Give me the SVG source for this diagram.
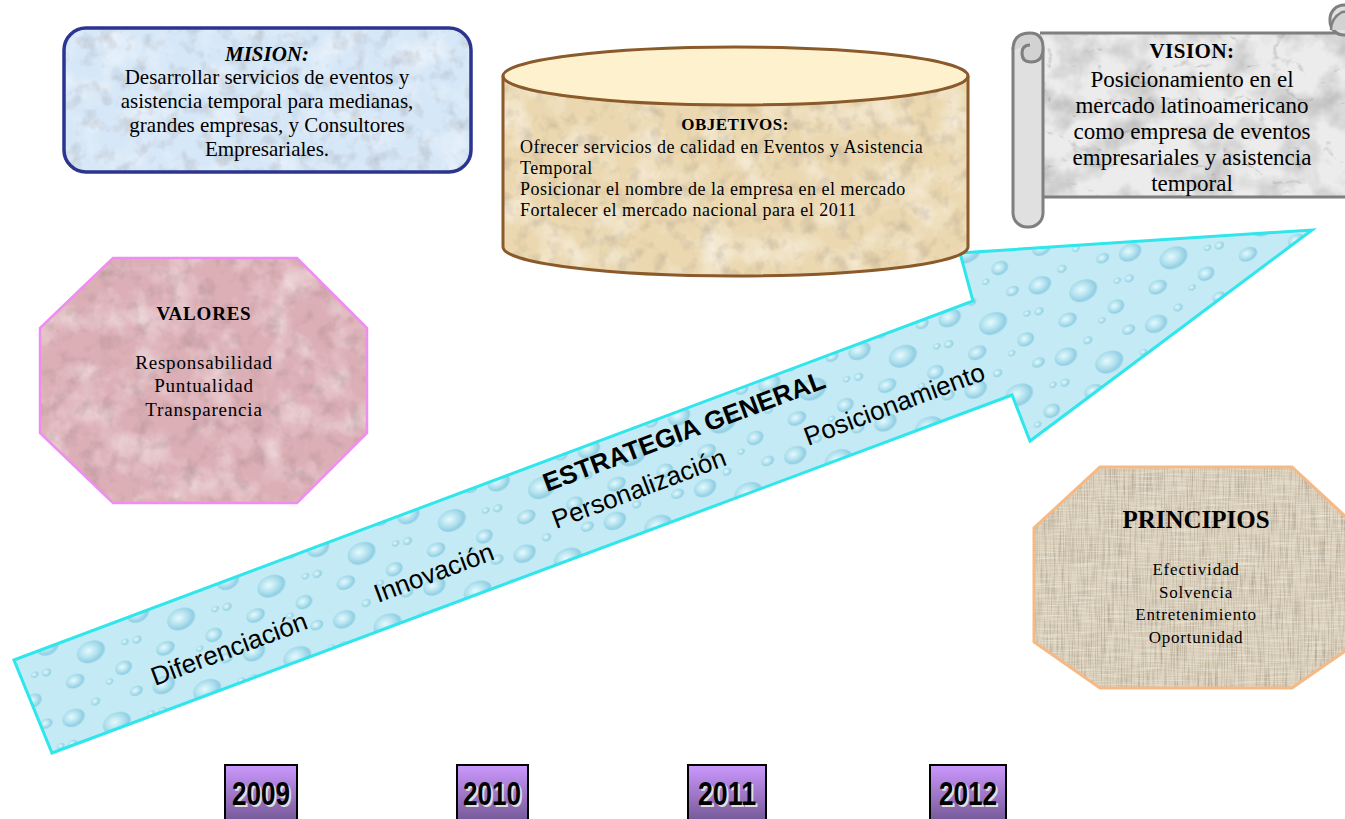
<svg xmlns="http://www.w3.org/2000/svg" width="1345" height="819" viewBox="0 0 1345 819">
<style>
.serif{font-family:"Liberation Serif","Times New Roman",serif;fill:#000}
.c{text-anchor:middle}
.b{font-weight:bold}
.at{font-family:"Liberation Sans",Arial,sans-serif;font-size:26px;fill:#000}
.yr{font-family:"Liberation Sans",Arial,sans-serif;font-weight:bold;font-size:33px;text-anchor:middle}
.ybox{fill:url(#ygrad);stroke:#000;stroke-width:2}
.dr{fill:url(#drop)}
</style>
<defs>
<filter id="mottle" x="0" y="0" width="100%" height="100%" color-interpolation-filters="sRGB">
<feTurbulence type="fractalNoise" baseFrequency="0.03" numOctaves="4" seed="3" result="n"/>
<feColorMatrix in="n" type="matrix" values="0 0 0 0 1 0 0 0 0 1 0 0 0 0 1 1.1 0 0 0 -0.48" result="w"/>
<feComposite in="w" in2="SourceGraphic" operator="in" result="wc"/>
<feTurbulence type="fractalNoise" baseFrequency="0.06" numOctaves="3" seed="9" result="n2"/>
<feColorMatrix in="n2" type="matrix" values="0 0 0 0 0.45 0 0 0 0 0.4 0 0 0 0 0.4 0.6 0 0 0 -0.3" result="d"/>
<feComposite in="d" in2="SourceGraphic" operator="in" result="dc"/>
<feMerge><feMergeNode in="SourceGraphic"/><feMergeNode in="wc"/><feMergeNode in="dc"/></feMerge>
</filter>
<filter id="marble" x="0" y="0" width="100%" height="100%" color-interpolation-filters="sRGB">
<feTurbulence type="fractalNoise" baseFrequency="0.025" numOctaves="4" seed="11" result="p"/>
<feColorMatrix in="p" type="matrix" values="0 0 0 0 0.55 0 0 0 0 0.55 0 0 0 0 0.55 1.2 0 0 0 -0.5" result="pc"/>
<feTurbulence type="turbulence" baseFrequency="0.02 0.03" numOctaves="4" seed="5" result="n"/>
<feColorMatrix in="n" type="matrix" values="0 0 0 0 0.5 0 0 0 0 0.5 0 0 0 0 0.5 -2.5 0 0 0 0.35" result="v"/>
<feMerge result="m"><feMergeNode in="SourceGraphic"/><feMergeNode in="pc"/><feMergeNode in="v"/></feMerge>
<feComposite in="m" in2="SourceGraphic" operator="in"/>
</filter>
<filter id="burlap" x="0" y="0" width="100%" height="100%" color-interpolation-filters="sRGB">
<feTurbulence type="fractalNoise" baseFrequency="0.7 0.03" numOctaves="2" seed="4" result="h"/>
<feColorMatrix in="h" type="matrix" values="0 0 0 0 0.5 0 0 0 0 0.45 0 0 0 0 0.38 1.0 0 0 0 -0.42" result="hc"/>
<feTurbulence type="fractalNoise" baseFrequency="0.03 0.7" numOctaves="2" seed="7" result="vv"/>
<feColorMatrix in="vv" type="matrix" values="0 0 0 0 1 0 0 0 0 1 0 0 0 0 0.96 1.0 0 0 0 -0.42" result="vc"/>
<feMerge result="m"><feMergeNode in="SourceGraphic"/><feMergeNode in="hc"/><feMergeNode in="vc"/></feMerge>
<feComposite in="m" in2="SourceGraphic" operator="in"/>
</filter>
<radialGradient id="drop" cx="0.42" cy="0.4" r="0.6">
<stop offset="0" stop-color="#e6f9fd"/>
<stop offset="0.5" stop-color="#b3e2ef"/>
<stop offset="0.85" stop-color="#8fcde2"/>
<stop offset="1" stop-color="#c4ecf6"/>
</radialGradient>
<pattern id="drops" width="96" height="76" patternUnits="userSpaceOnUse" patternTransform="rotate(-20)">
<rect width="96" height="76" fill="#c4ebf5"/>
<ellipse class="dr" cx="16" cy="16" rx="12" ry="9"/>
<ellipse class="dr" cx="55" cy="36" rx="15" ry="11"/>
<ellipse class="dr" cx="84" cy="12" rx="7" ry="5"/>
<ellipse class="dr" cx="30" cy="58" rx="10" ry="7"/>
<ellipse class="dr" cx="80" cy="62" rx="9" ry="7"/>
<ellipse class="dr" cx="6" cy="40" rx="5" ry="4"/>
<ellipse class="dr" cx="42" cy="8" rx="5" ry="4"/>
<ellipse class="dr" cx="62" cy="70" rx="4" ry="3"/>
<ellipse class="dr" cx="90" cy="38" rx="4" ry="3"/>
</pattern>
<linearGradient id="ygrad" x1="0" y1="0" x2="0" y2="1">
<stop offset="0" stop-color="#cc99ff"/>
<stop offset="1" stop-color="#6f548f"/>
</linearGradient>
</defs>

<rect width="1345" height="819" fill="#ffffff"/>

<g id="connectors">
<g id="estrategia">
<polygon points="14,660 973,301 960,253 1312,230 1030,441 1012,395 52,753" fill="url(#drops)"/>
<polygon points="14,660 973,301 960,253 1312,230 1030,441 1012,395 52,753" fill="none" stroke="#2ee6ec" stroke-width="3"/>
<text class="at" x="155" y="686" transform="rotate(-20.5 155 686)">Diferenciación</text>
<text class="at" x="378" y="603" transform="rotate(-20.5 378 603)">Innovación</text>
<text class="at b" x="547" y="492" transform="rotate(-20.5 547 492)">ESTRATEGIA GENERAL</text>
<text class="at" x="556" y="529" transform="rotate(-20.5 556 529)">Personalización</text>
<text class="at" x="808" y="446" transform="rotate(-20.5 808 446)">Posicionamiento</text>
</g>
</g>

<g id="mision">
<rect x="64" y="28" width="407" height="144" rx="22" fill="#d6e7f7" filter="url(#mottle)"/>
<rect x="64" y="28" width="407" height="144" rx="22" fill="none" stroke="#2b3590" stroke-width="3.5"/>
<text class="serif c b" x="267" y="61" font-size="21" font-style="italic">MISION:</text>
<text class="serif c" x="267" y="84" font-size="21">Desarrollar servicios de eventos y</text>
<text class="serif c" x="267" y="108" font-size="21">asistencia temporal para medianas,</text>
<text class="serif c" x="267" y="132" font-size="21">grandes empresas, y Consultores</text>
<text class="serif c" x="267" y="156" font-size="21">Empresariales.</text>
</g>

<g id="objetivos">
<path d="M503,76 V247 A232.5,29 0 0 0 968,247 V76 Z" fill="#ebd8b0" filter="url(#mottle)"/>
<ellipse cx="735.5" cy="76" rx="232.5" ry="29" fill="#fdf2cd"/>
<path d="M503,76 V247 A232.5,29 0 0 0 968,247 V76" fill="none" stroke="#8a5a2b" stroke-width="3"/>
<ellipse cx="735.5" cy="76" rx="232.5" ry="29" fill="none" stroke="#8a5a2b" stroke-width="3"/>
<text class="serif c b" x="735" y="130" font-size="17" letter-spacing="0.5">OBJETIVOS:</text>
<text class="serif" x="520" y="153" font-size="18" letter-spacing="0.5">Ofrecer servicios de calidad en Eventos y Asistencia</text>
<text class="serif" x="520" y="174" font-size="18" letter-spacing="0.5">Temporal</text>
<text class="serif" x="520" y="195" font-size="18" letter-spacing="0.5">Posicionar el nombre de la empresa en el mercado</text>
<text class="serif" x="520" y="216" font-size="18" letter-spacing="0.5">Fortalecer el mercado nacional para el 2011</text>
</g>

<g id="vision">
<rect x="1040" y="33" width="320" height="164" fill="#ececec" filter="url(#marble)"/>
<path d="M1040,33 H1360 M1043,197 H1360" fill="none" stroke="#7f7f7f" stroke-width="3"/>
<rect x="1013" y="36" width="30" height="191" rx="14" fill="#e0e0e0" stroke="#7f7f7f" stroke-width="3"/>
<path d="M1013,50 Q1013,33 1030,33 Q1043,33 1043,48 Q1043,62 1031,62 Q1022,62 1022,53 Q1022,45 1030,45" fill="#d2d2d2" stroke="#7f7f7f" stroke-width="3"/>
<rect x="1330" y="5" width="30" height="30" rx="14" fill="#e0e0e0" stroke="#7f7f7f" stroke-width="3"/>
<path d="M1331,30 Q1331,18 1342,12 Q1352,10 1355,22 L1355,30" fill="#d2d2d2" stroke="#7f7f7f" stroke-width="2.5"/>
<text class="serif c b" x="1192" y="58" font-size="21" letter-spacing="0.5">VISION:</text>
<text class="serif c" x="1192" y="87" font-size="23">Posicionamiento en el</text>
<text class="serif c" x="1192" y="113" font-size="23">mercado latinoamericano</text>
<text class="serif c" x="1192" y="139" font-size="23">como empresa de eventos</text>
<text class="serif c" x="1192" y="165" font-size="23">empresariales y asistencia</text>
<text class="serif c" x="1192" y="191" font-size="23">temporal</text>
</g>

<g id="valores">
<polygon points="113,258 297,258 367,328 367,433 297,503 113,503 40,433 40,328" fill="#dcafb6" filter="url(#mottle)"/>
<polygon points="113,258 297,258 367,328 367,433 297,503 113,503 40,433 40,328" fill="none" stroke="#ee8ef0" stroke-width="2.5"/>
<text class="serif c b" x="204" y="320" font-size="19" letter-spacing="0.8">VALORES</text>
<text class="serif c" x="204" y="369" font-size="19" letter-spacing="0.8">Responsabilidad</text>
<text class="serif c" x="204" y="392" font-size="19" letter-spacing="0.8">Puntualidad</text>
<text class="serif c" x="204" y="416" font-size="19" letter-spacing="0.8">Transparencia</text>
</g>

<g id="principios">
<polygon points="1100,467 1292,467 1358,528 1358,642 1292,688 1100,688 1034,642 1034,528" fill="#dbd0bc" filter="url(#burlap)"/>
<polygon points="1100,467 1292,467 1358,528 1358,642 1292,688 1100,688 1034,642 1034,528" fill="none" stroke="#f5b985" stroke-width="3"/>
<text class="serif c b" x="1196" y="528" font-size="25">PRINCIPIOS</text>
<text class="serif c" x="1196" y="575" font-size="17" letter-spacing="0.8">Efectividad</text>
<text class="serif c" x="1196" y="598" font-size="17" letter-spacing="0.8">Solvencia</text>
<text class="serif c" x="1196" y="620" font-size="17" letter-spacing="0.8">Entretenimiento</text>
<text class="serif c" x="1196" y="643" font-size="17" letter-spacing="0.8">Oportunidad</text>
</g>

<g id="y2009">
<rect class="ybox" x="225" y="765" width="72" height="60"/>
<text class="yr" x="263" y="807" fill="#e0e0e0" textLength="58" lengthAdjust="spacingAndGlyphs">2009</text>
<text class="yr" x="261" y="805" fill="#000" textLength="58" lengthAdjust="spacingAndGlyphs">2009</text>
</g>
<g id="y2010">
<rect class="ybox" x="457" y="765" width="71" height="60"/>
<text class="yr" x="494" y="807" fill="#e0e0e0" textLength="58" lengthAdjust="spacingAndGlyphs">2010</text>
<text class="yr" x="492" y="805" fill="#000" textLength="58" lengthAdjust="spacingAndGlyphs">2010</text>
</g>
<g id="y2011">
<rect class="ybox" x="688" y="765" width="78" height="60"/>
<text class="yr" x="729" y="807" fill="#e0e0e0" textLength="58" lengthAdjust="spacingAndGlyphs">2011</text>
<text class="yr" x="727" y="805" fill="#000" textLength="58" lengthAdjust="spacingAndGlyphs">2011</text>
</g>
<g id="y2012">
<rect class="ybox" x="930" y="765" width="76" height="60"/>
<text class="yr" x="970" y="807" fill="#e0e0e0" textLength="58" lengthAdjust="spacingAndGlyphs">2012</text>
<text class="yr" x="968" y="805" fill="#000" textLength="58" lengthAdjust="spacingAndGlyphs">2012</text>
</g>
</svg>
